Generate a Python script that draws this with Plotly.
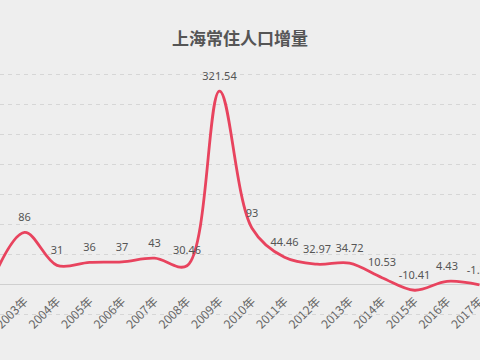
import plotly.graph_objects as go

years = ["2002年", "2003年", "2004年", "2005年", "2006年", "2007年", "2008年", "2009年",
         "2010年", "2011年", "2012年", "2013年", "2014年", "2015年", "2016年", "2017年"]
increase = [5, 86, 31, 36, 37, 43, 30.46, 321.54, 93, 44.46, 32.97, 34.72, 10.53, -10.41, 4.43, -1.37]
labels = ["5", "86", "31", "36", "37", "43", "30.46", "321.54", "93", "44.46", "32.97", "34.72",
          "10.53", "-10.41", "4.43", "-1.37"]

LINE = "#e8435e"
BG = "#eeeeee"

fig = go.Figure()
fig.add_trace(go.Scatter(
    x=years, y=increase, mode="lines",
    line=dict(color=LINE, width=2.8, shape="spline", smoothing=1.0),
    hoverinfo="skip", showlegend=False,
))
fig.add_trace(go.Scatter(
    x=years, y=increase, mode="markers+text",
    marker=dict(size=12, opacity=0),
    text=labels, textposition="top center",
    textfont=dict(family="Noto Sans, Liberation Sans, sans-serif", size=11, color="#555555"),
    cliponaxis=False, hoverinfo="skip", showlegend=False,
))

y_lo, y_hi = -56.67, 356.67
fig.update_layout(
    width=480, height=360,
    paper_bgcolor=BG, plot_bgcolor=BG,
    margin=dict(l=0, r=0, t=70, b=42, autoexpand=False),
    title=dict(text="<b>上海常住人口增量</b>", x=0.5, xanchor="center", y=0.892, yanchor="middle",
               font=dict(family="Noto Sans CJK SC", size=17, color="#555555")),
    xaxis=dict(
        type="category", range=[0.246, 15.015], automargin=False,
        anchor="free", position=(0 - y_lo) / (y_hi - y_lo),
        showgrid=False, showline=False, zeroline=False,
        tickangle=-45, ticks="", ticklabelstandoff=7,
        tickfont=dict(family="Noto Sans CJK SC", size=12, color="#666666"),
    ),
    yaxis=dict(
        range=[y_lo, y_hi], tick0=0, dtick=50, automargin=False,
        showticklabels=False, ticks="",
        showgrid=True, gridcolor="#d6d6d6", griddash="4px,4px", gridwidth=1,
        zeroline=True, zerolinecolor="#cfcfcf", zerolinewidth=1,
    ),
)

fig.write_html("out.html", config={"displayModeBar": False},
               post_script="document.body.style.margin='0';document.body.style.background='#eeeeee';")
